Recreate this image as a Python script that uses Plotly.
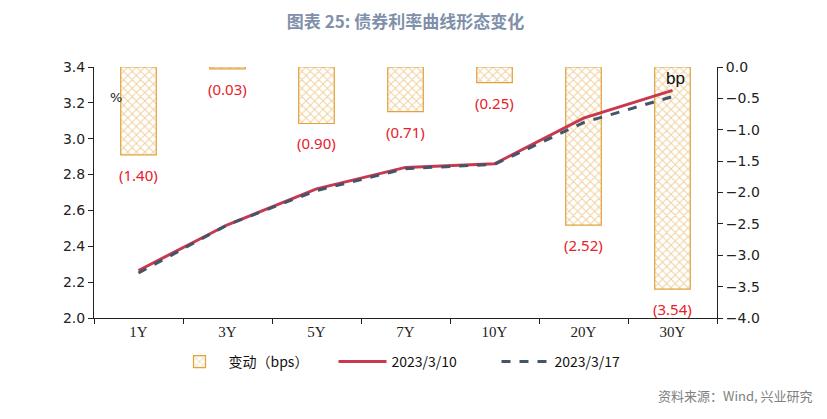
import plotly.graph_objects as go

categories = ["1Y", "3Y", "5Y", "7Y", "10Y", "20Y", "30Y"]
change_bps = [-1.40, -0.03, -0.90, -0.71, -0.25, -2.52, -3.54]
change_labels = ["(1.40)", "(0.03)", "(0.90)", "(0.71)", "(0.25)", "(2.52)", "(3.54)"]
yield_0310 = [2.265, 2.52, 2.72, 2.84, 2.86, 3.115, 3.27]
yield_0317 = [2.251, 2.52, 2.711, 2.833, 2.857, 3.090, 3.235]

gold = "#E0A23A"
fig = go.Figure()

fig.add_trace(go.Bar(
    x=categories, y=change_bps, name="变动（bps）", yaxis="y",
    width=0.4,
    marker=dict(color="white", line=dict(color=gold, width=1.2),
                pattern=dict(shape="x", fgcolor=gold, bgcolor="white", size=6, solidity=0.3)),
))
fig.add_trace(go.Scatter(
    x=categories, y=yield_0310, name="2023/3/10", yaxis="y2", mode="lines",
    line=dict(color="#C8384E", width=3),
))
fig.add_trace(go.Scatter(
    x=categories, y=yield_0317, name="2023/3/17", yaxis="y2", mode="lines",
    line=dict(color="#44546A", width=3, dash="dash"),
))

for cat, val, lab in zip(categories, change_bps, change_labels):
    fig.add_annotation(x=cat, y=val, xref="x", yref="y", text=lab, showarrow=False,
                       yanchor="middle", yshift=-20,
                       font=dict(color="#E8202A", size=15, family="Noto Sans, Open Sans, sans-serif"))

# page body has an 8px margin; plot area placed at screen x 94..717, y 67..318
W, H = 811, 403
fig.update_layout(
    width=W, height=H,
    margin=dict(l=86, r=W - 709, t=59, b=H - 310, autoexpand=False),
    paper_bgcolor="white", plot_bgcolor="white",
    font=dict(family="Liberation Sans, DejaVu Sans, sans-serif", color="#222"),
    title=dict(text="<b>图表 25: 债券利率曲线形态变化</b>", x=0.5, xref="paper",
               y=1 - 14 / H, xanchor="center", yanchor="middle", automargin=False,
               font=dict(family="Noto Sans CJK SC", size=17, color="#8090AA")),
    xaxis=dict(type="category", showline=True, linecolor="#222", linewidth=1,
               ticks="outside", ticklen=5, tickcolor="#222", tickson="boundaries",
               tickfont=dict(family="Liberation Serif, serif", size=15, color="#222"),
               showgrid=False),
    yaxis=dict(side="right", range=[-4.0, 0.0], dtick=0.5, tickformat=".1f",
               showline=True, linecolor="#222", linewidth=1, ticks="outside", ticklen=5,
               tickcolor="#222", showgrid=False, zeroline=False,
               tickfont=dict(family="DejaVu Sans, sans-serif", size=14, color="#222")),
    yaxis2=dict(side="left", overlaying="y", range=[2.0, 3.4], dtick=0.2, tickformat=".1f",
                showline=True, linecolor="#222", linewidth=1, ticks="outside", ticklen=5,
                tickcolor="#222", showgrid=False, zeroline=False,
                tickfont=dict(family="DejaVu Sans, sans-serif", size=14, color="#222")),
    legend=dict(orientation="h", x=(415 - 94) / 623, xanchor="center", y=(318 - 362) / 251,
                yanchor="middle", entrywidth=100, entrywidthmode="pixels",
                font=dict(family="Noto Sans CJK SC", size=14, color="#111"),
                traceorder="normal", itemwidth=48),
    showlegend=True,
)

fig.add_annotation(text="%", xref="paper", yref="paper", x=(108-94)/623, y=(318-88)/251,
                   showarrow=False, font=dict(size=13, color="#222", family="DejaVu Sans"))
fig.add_annotation(text="bp", xref="paper", yref="paper", x=(687-94)/623, y=(318-67)/251,
                   showarrow=False, font=dict(size=17, color="#111", family="Liberation Sans"))
fig.add_annotation(text="资料来源：Wind, 兴业研究", xref="paper", yref="paper",
                   x=(815-94)/623, xanchor="right", y=(318-395)/251, yanchor="middle",
                   showarrow=False, font=dict(size=13, color="#808080", family="Noto Sans CJK SC"))

fig.write_html("out.html")
